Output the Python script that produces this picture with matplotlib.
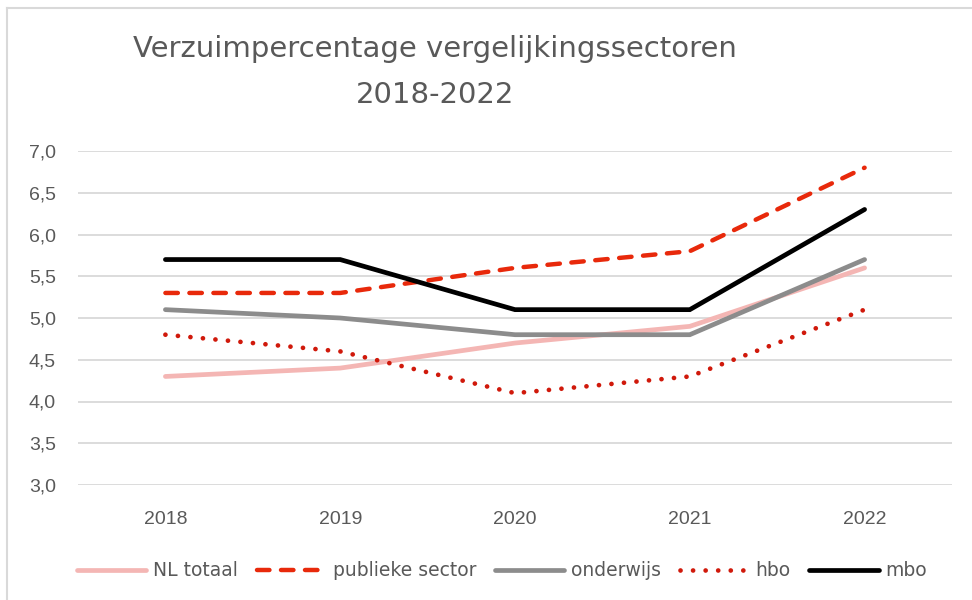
import matplotlib
matplotlib.use("Agg")
import matplotlib.pyplot as plt
from matplotlib.lines import Line2D

years = ["2018", "2019", "2020", "2021", "2022"]
nl_totaal = [4.3, 4.4, 4.7, 4.9, 5.6]
publieke_sector = [5.3, 5.3, 5.6, 5.8, 6.8]
onderwijs = [5.1, 5.0, 4.8, 4.8, 5.7]
hbo = [4.8, 4.6, 4.1, 4.3, 5.1]
mbo = [5.7, 5.7, 5.1, 5.1, 6.3]
y_ticks = [3.0, 3.5, 4.0, 4.5, 5.0, 5.5, 6.0, 6.5, 7.0]
title = "Verzuimpercentage vergelijkingssectoren\n2018-2022"

narrow = ["DejaVu Sans"]
regular = ["Liberation Sans", "DejaVu Sans"]
text_col = "#595959"

fig = plt.figure(figsize=(9.72, 6.0), dpi=100)
ax = fig.add_axes([78 / 972, 1 - 485 / 600, (952 - 78) / 972, (485 - 151) / 600])

x = list(range(len(years)))
series = [
    ("NL totaal", nl_totaal, dict(color="#F4B6B4", ls="-", lw=3.4)),
    ("publieke sector", publieke_sector, dict(color="#E8290B", ls=(0, (2.8, 2.6)), lw=3.2)),
    ("onderwijs", onderwijs, dict(color="#8C8C8C", ls="-", lw=3.4)),
    ("hbo", hbo, dict(color="#D0190B", ls=(0, (0.01, 2.65)), lw=3.4)),
    ("mbo", mbo, dict(color="#000000", ls="-", lw=3.4)),
]
handles = []
for name, vals, st in series:
    ln, = ax.plot(x, vals, solid_capstyle="round", dash_capstyle="round",
                  solid_joinstyle="miter", label=name, **st)
    handles.append(ln)

ax.set_xlim(-0.5, len(years) - 0.5)
ax.set_ylim(3.0, 7.0)
ax.set_yticks(y_ticks)
ax.set_yticklabels([f"{v:.1f}".replace(".", ",") for v in y_ticks],
                   fontfamily=regular, fontsize=14, color=text_col)
ax.set_xticks(x)
ax.set_xticklabels(years, fontfamily=regular, fontsize=14, color=text_col)
ax.tick_params(axis="both", length=0)
ax.tick_params(axis="y", pad=16)
ax.tick_params(axis="x", pad=19)
ax.grid(axis="y", color="#D9D9D9", lw=1.3)
ax.set_axisbelow(True)
for s in ax.spines.values():
    s.set_visible(False)
ax.patch.set_visible(False)

fig.text(435 / 972, 1 - 72 / 600, title, ha="center", va="center",
         fontfamily=narrow, fontsize=21, color=text_col, linespacing=1.85)

leg = fig.legend(handles=handles, loc="center", bbox_to_anchor=(502 / 972, 1 - 571 / 600),
                 ncol=5, frameon=False, prop=dict(family=narrow, size=13.5),
                 handlelength=3.7, handletextpad=0.35, columnspacing=1.0,
                 labelcolor=text_col)

# partial frame (top and left edges)
fig.add_artist(Line2D([7 / 972, 7 / 972], [0, 1 - 8 / 600], color="#D9D9D9", lw=1.5,
                      transform=fig.transFigure))
fig.add_artist(Line2D([7 / 972, 1], [1 - 8 / 600, 1 - 8 / 600], color="#D9D9D9", lw=1.5,
                      transform=fig.transFigure))

fig.savefig("out.png", dpi=100)
